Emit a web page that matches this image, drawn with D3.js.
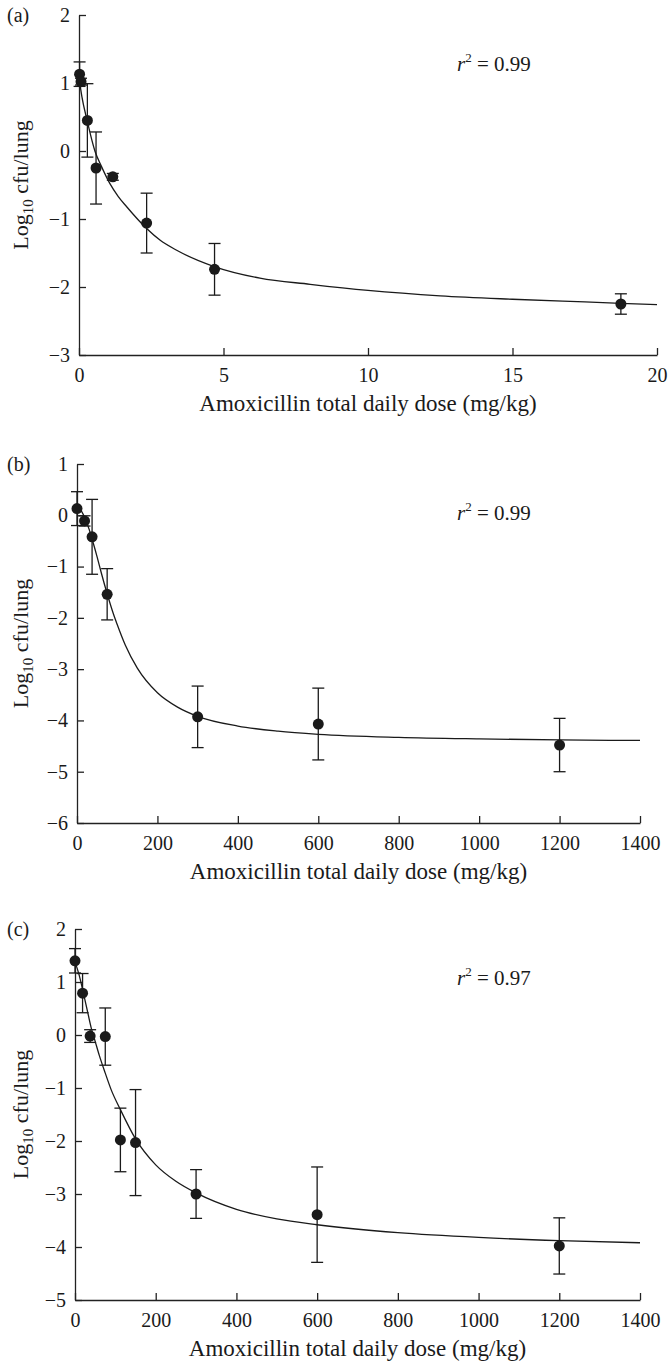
<!DOCTYPE html>
<html>
<head>
<meta charset="utf-8">
<script src="https://cdn.jsdelivr.net/npm/d3@7"></script>
<style>
  body { margin: 0; background: #fff; }
  svg text { font-family: "Liberation Serif", "Times New Roman", serif; fill: #1a1a1a; }
  .axis path, .axis line { stroke: #222; stroke-width: 1.3; }
</style>
</head>
<body>
<div id="chart"></div>
<script>
// panel (a): low dose range
var doseA = [0.02, 0.07, 0.29, 0.59, 1.17, 2.34, 4.69, 18.75],
    meanA = [1.13, 1.02, 0.45, -0.25, -0.38, -1.06, -1.74, -2.25],
    errA = [0.18, 0.05, 0.54, 0.53, 0.05, 0.44, 0.38, 0.15],
    fitXA = [0, 0.1, 0.28, 0.55, 0.78, 1.07, 1.36, 1.65, 2.34, 2.8, 3.38, 4.68, 6.26, 8, 10, 12.5, 15, 17.5, 20],
    fitYA = [1.08, 0.8, 0.45, 0.0, -0.23, -0.48, -0.67, -0.82, -1.14, -1.31, -1.46, -1.70, -1.87, -1.96, -2.05, -2.13, -2.18, -2.22, -2.26],
    xTicksA = [0, 5, 10, 15, 20],
    yTicksA = [-3, -2, -1, 0, 1, 2];

// panel (b)
var doseB = [0, 18.75, 37.5, 75, 300, 600, 1200],
    meanB = [0.13, -0.11, -0.42, -1.54, -3.93, -4.07, -4.48],
    errB = [0.33, 0.1, 0.73, 0.5, 0.6, 0.7, 0.52],
    fitXB = [0, 10, 20, 30, 40, 50, 60, 75, 90, 100, 120, 150, 200, 250, 300, 400, 500, 600, 800, 1000, 1200, 1400],
    fitYB = [0.15, 0.09, -0.06, -0.27, -0.53, -0.81, -1.11, -1.53, -1.91, -2.13, -2.53, -2.98, -3.46, -3.74, -3.92, -4.11, -4.21, -4.27, -4.33, -4.36, -4.38, -4.39],
    xTicksB = [0, 200, 400, 600, 800, 1000, 1200, 1400],
    yTicksB = [-6, -5, -4, -3, -2, -1, 0, 1];

// panel (c)
var doseC = [0, 18.75, 37.5, 75, 112.5, 150, 300, 600, 1200],
    meanC = [1.40, 0.79, -0.02, -0.03, -1.98, -2.03, -3.0, -3.39, -3.98],
    errC = [0.23, 0.37, 0.12, 0.54, 0.6, 1.0, 0.46, 0.9, 0.53],
    fitXC = [0, 10, 20, 30, 40, 50, 60, 75, 90, 112, 150, 200, 250, 300, 400, 500, 600, 800, 1000, 1200, 1400],
    fitYC = [1.38, 1.14, 0.82, 0.48, 0.14, -0.12, -0.38, -0.72, -1.04, -1.40, -1.96, -2.45, -2.76, -2.98, -3.29, -3.47, -3.58, -3.73, -3.82, -3.88, -3.92],
    xTicksC = [0, 200, 400, 600, 800, 1000, 1200, 1400],
    yTicksC = [-5, -4, -3, -2, -1, 0, 1, 2];

var panelNames = ["(a)", "(b)", "(c)"],
    rSquared = ["0.99", "0.99", "0.97"];

var xTitle = "Amoxicillin total daily dose (mg/kg)";

var width = 670, height = 1368;

var svg = d3.select("#chart").append("svg")
    .attr("width", width)
    .attr("height", height);

var panels = [
  {dose: doseA, mean: meanA, err: errA, fx: fitXA, fy: fitYA, xt: xTicksA, yt: yTicksA,
   xr: [79, 657], yr: [355, 15], xd: [0, 20], yd: [-3, 2]},
  {dose: doseB, mean: meanB, err: errB, fx: fitXB, fy: fitYB, xt: xTicksB, yt: yTicksB,
   xr: [77, 640], yr: [823, 464], xd: [0, 1400], yd: [-6, 1]},
  {dose: doseC, mean: meanC, err: errC, fx: fitXC, fy: fitYC, xt: xTicksC, yt: yTicksC,
   xr: [75, 640], yr: [1300, 929], xd: [0, 1400], yd: [-5, 2]}
];

var fmt = function(d) { return d < 0 ? "\u2212" + Math.abs(d) : String(d); };

panels.forEach(function(p, i) {
  var x = d3.scaleLinear().domain(p.xd).range(p.xr),
      y = d3.scaleLinear().domain(p.yd).range(p.yr);

  var g = svg.append("g").attr("class", "panel");

  // axes, ticks pointing inward
  g.append("g")
      .attr("class", "axis")
      .attr("transform", "translate(0," + p.yr[0] + ")")
      .call(d3.axisBottom(x).tickValues(p.xt).tickFormat(fmt).tickSizeInner(-7).tickSizeOuter(0).tickPadding(13))
      .call(function(s) { s.selectAll("text").attr("font-size", 20).attr("font-family", null); });

  g.append("g")
      .attr("class", "axis")
      .attr("transform", "translate(" + p.xr[0] + ",0)")
      .call(d3.axisLeft(y).tickValues(p.yt).tickFormat(fmt).tickSizeInner(-7).tickSizeOuter(0).tickPadding(9))
      .call(function(s) { s.selectAll("text").attr("font-size", 20).attr("font-family", null); });

  // fitted curve
  var line = d3.line()
      .curve(d3.curveMonotoneX)
      .x(function(d) { return x(d[0]); })
      .y(function(d) { return y(d[1]); });

  g.append("path")
      .datum(d3.zip(p.fx, p.fy))
      .attr("d", line)
      .attr("fill", "none")
      .attr("stroke", "#1a1a1a")
      .attr("stroke-width", 1.3);

  // error bars
  var pts = p.dose.map(function(d, j) { return {x: d, y: p.mean[j], e: p.err[j]}; });

  var eb = g.selectAll(".eb").data(pts).enter().append("g")
      .attr("stroke", "#1a1a1a")
      .attr("stroke-width", 1.3);
  eb.append("line")
      .attr("x1", function(d) { return x(d.x); })
      .attr("x2", function(d) { return x(d.x); })
      .attr("y1", function(d) { return y(d.y + d.e); })
      .attr("y2", function(d) { return y(d.y - d.e); });
  eb.append("line")
      .attr("x1", function(d) { return x(d.x) - 6; })
      .attr("x2", function(d) { return x(d.x) + 6; })
      .attr("y1", function(d) { return y(d.y + d.e); })
      .attr("y2", function(d) { return y(d.y + d.e); });
  eb.append("line")
      .attr("x1", function(d) { return x(d.x) - 6; })
      .attr("x2", function(d) { return x(d.x) + 6; })
      .attr("y1", function(d) { return y(d.y - d.e); })
      .attr("y2", function(d) { return y(d.y - d.e); });

  g.selectAll("circle").data(pts).enter().append("circle")
      .attr("cx", function(d) { return x(d.x); })
      .attr("cy", function(d) { return y(d.y); })
      .attr("r", 5.5)
      .attr("fill", "#1a1a1a");

  // panel letter
  g.append("text")
      .attr("x", 7)
      .attr("y", p.yr[1] + 7)
      .attr("font-size", 20)
      .text(panelNames[i]);

  // r squared
  var rt = g.append("text")
      .attr("x", 457)
      .attr("y", p.yr[1] + 56)
      .attr("font-size", 21);
  rt.append("tspan").attr("font-style", "italic").text("r");
  rt.append("tspan").attr("font-size", 13).attr("dy", -9).text("2");
  rt.append("tspan").attr("dy", 9).text(" = " + rSquared[i]);

  // axis titles
  g.append("text")
      .attr("x", (p.xr[0] + p.xr[1]) / 2)
      .attr("y", p.yr[0] + 56)
      .attr("text-anchor", "middle")
      .attr("font-size", 23)
      .text(xTitle);

  var yt = g.append("text")
      .attr("transform", "translate(28," + (p.yr[0] + p.yr[1]) / 2 + ") rotate(-90)")
      .attr("text-anchor", "middle")
      .attr("font-size", 22);
  yt.append("tspan").text("Log");
  yt.append("tspan").attr("font-size", 15).attr("dy", 5).text("10");
  yt.append("tspan").attr("dy", -5).text(" cfu/lung");
});
</script>
</body>
</html>
